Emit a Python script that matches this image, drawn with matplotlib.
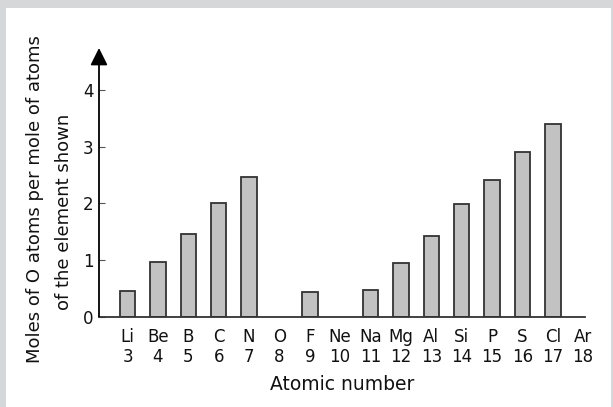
import matplotlib
matplotlib.use("Agg")
import matplotlib.pyplot as plt
from matplotlib.patches import Rectangle

plt.rcParams['font.family'] = ['DejaVu Sans']

# Oxides of the second- and third-period elements
symbols = ["Li", "Be", "B", "C", "N", "O", "F", "Ne",
           "Na", "Mg", "Al", "Si", "P", "S", "Cl", "Ar"]
atomic_numbers = [3, 4, 5, 6, 7, 8, 9, 10, 11, 12, 13, 14, 15, 16, 17, 18]
o_per_atom = [0.45, 0.97, 1.45, 2.0, 2.46, 0.0, 0.44, 0.0,
              0.47, 0.95, 1.42, 1.98, 2.41, 2.91, 3.40, 0.0]
y_ticks = [0, 1, 2, 3, 4]

W, H = 613, 407
fig = plt.figure(figsize=(W / 100, H / 100), dpi=100)
fig.patch.set_facecolor('#d6d7d9')
fig.patches.append(Rectangle((6 / W, 0), (W - 8) / W, (H - 8) / H,
                             transform=fig.transFigure, facecolor='white',
                             edgecolor='none', zorder=-10))

ax = fig.add_axes([99 / W, 1 - 316.5 / H, (585 - 99) / W, (316.5 - 48) / H])
ax.set_facecolor('none')

bars_x = [n for n, v in zip(atomic_numbers, o_per_atom) if v > 0]
bars_v = [v for v in o_per_atom if v > 0]
ax.bar(bars_x, bars_v, width=0.51, color='#c2c2c2', edgecolor='#333333',
       linewidth=1.3, zorder=2)

ax.set_xlim(2.06, 18.06)
ax.set_ylim(0, 4.74)

for s in ['top', 'right', 'left']:
    ax.spines[s].set_visible(False)
ax.spines['bottom'].set_color('#333333')
ax.spines['bottom'].set_linewidth(1.3)

# vertical axis with arrow head
ax.annotate('', xy=(0, 1), xytext=(0, 0), xycoords='axes fraction',
            arrowprops=dict(arrowstyle='-|>', color='black', lw=1.3,
                            mutation_scale=26, shrinkA=0, shrinkB=0),
            annotation_clip=False)

txt = '#111111'
ax.set_yticks(y_ticks)
ax.set_yticklabels([str(t) for t in y_ticks], fontsize=12, color=txt)
ax.tick_params(axis='y', direction='in', length=4, width=0.8,
               colors='#555555', pad=4, labelcolor=txt)

ax.set_xticks(atomic_numbers)
ax.set_xticklabels([f"{s}\n{n}" for s, n in zip(symbols, atomic_numbers)],
                   fontsize=12, color=txt, linespacing=1.15)
ax.tick_params(axis='x', length=0, pad=8)

fig.text(35 / W, 1 - 199 / H, "Moles of O atoms per mole of atoms",
         rotation=90, ha='center', va='center', fontsize=13, color=txt)
fig.text(64 / W, 1 - 211.5 / H, "of the element shown",
         rotation=90, ha='center', va='center', fontsize=13, color=txt)
fig.text(342 / W, 1 - 390 / H, "Atomic number", ha='center', va='baseline',
         fontsize=13.5, color=txt)

fig.savefig("out.png", dpi=100)
